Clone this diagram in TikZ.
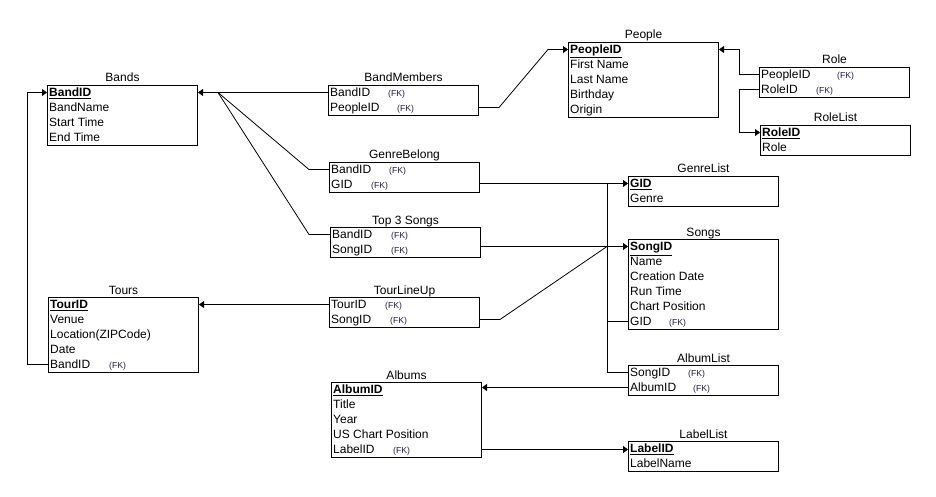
\documentclass[tikz,border=0pt]{standalone}
\usepackage{fontspec}
\setmainfont{Liberation Sans}
\usetikzlibrary{arrows.meta,calc}
\definecolor{fkcol}{RGB}{35,28,70}
\newcommand{\erpk}[1]{\textbf{\underline{#1}}}
\newcommand{\ertable}[5]{%
  \node[tbl, minimum height=#4*15pt, anchor=north west] (#1) at (#2,#3) {};
  \node[ttl] (#1-title) at ([yshift=3pt]#1.north) {#5};}
\newcommand{\errow}[4]{%
  \node[rowtxt] (#1) at ([xshift=2pt,yshift={-7.5pt-(#3-1)*15pt}]#2.north west) {#4};}
\newcommand{\erfk}[3]{%
  \node[fktxt] (#1-fk) at ([xshift=#2pt]#1.base west) {(FK)};}
\begin{document}
\begin{tikzpicture}[x=1pt,y=-1pt,
  tbl/.style={draw=black, line width=1pt, minimum width=150pt, inner sep=0pt, fill=white},
  ttl/.style={anchor=base, inner sep=0pt, font=\fontsize{12}{14}\selectfont},
  rowtxt/.style={anchor=west, inner sep=0pt, text height=8.6pt, text depth=0pt, font=\fontsize{12}{14}\selectfont},
  fktxt/.style={anchor=base west, inner sep=0pt, text=fkcol, font=\fontsize{8.7}{10}\selectfont},
  conn/.style={draw=black, line width=0.8pt},
  arr/.style={conn, -{Triangle[length=5pt,width=7pt]}}]
\useasboundingbox (0,0) rectangle (936,497);

% tables
\ertable{bands}{47}{85}{4}{Bands}
\errow{bands1}{bands}{1}{\erpk{BandID}}
\errow{bands2}{bands}{2}{BandName}
\errow{bands3}{bands}{3}{Start Time}
\errow{bands4}{bands}{4}{End Time}

\ertable{bm}{328}{85}{2}{BandMembers}
\errow{bm1}{bm}{1}{BandID}
\errow{bm2}{bm}{2}{PeopleID}
\erfk{bm1}{58}{}
\erfk{bm2}{67}{}

\ertable{people}{568}{42}{5}{People}
\errow{people1}{people}{1}{\erpk{PeopleID}}
\errow{people2}{people}{2}{First Name}
\errow{people3}{people}{3}{Last Name}
\errow{people4}{people}{4}{Birthday}
\errow{people5}{people}{5}{Origin}

\ertable{role}{759}{67}{2}{Role}
\errow{role1}{role}{1}{PeopleID}
\errow{role2}{role}{2}{RoleID}
\erfk{role1}{76}{}
\erfk{role2}{55}{}

\ertable{rolelist}{760}{125}{2}{RoleList}
\errow{rl1}{rolelist}{1}{\erpk{RoleID}}
\errow{rl2}{rolelist}{2}{Role}

\ertable{gb}{329}{162}{2}{GenreBelong}
\errow{gb1}{gb}{1}{BandID}
\errow{gb2}{gb}{2}{GID}
\erfk{gb1}{58}{}
\erfk{gb2}{40}{}

\ertable{t3}{330}{227}{2}{Top 3 Songs}
\errow{t31}{t3}{1}{BandID}
\errow{t32}{t3}{2}{SongID}
\erfk{t31}{59}{}
\erfk{t32}{59}{}

\ertable{genrelist}{628}{176}{2}{GenreList}
\errow{gl1}{genrelist}{1}{\erpk{GID}}
\errow{gl2}{genrelist}{2}{Genre}

\ertable{songs}{628}{239}{6}{Songs}
\errow{s1}{songs}{1}{\erpk{SongID}}
\errow{s2}{songs}{2}{Name}
\errow{s3}{songs}{3}{Creation Date}
\errow{s4}{songs}{4}{Run Time}
\errow{s5}{songs}{5}{Chart Position}
\errow{s6}{songs}{6}{GID}
\erfk{s6}{39}{}

\ertable{tours}{48}{297}{5}{Tours}
\errow{tours1}{tours}{1}{\erpk{TourID}}
\errow{tours2}{tours}{2}{Venue}
\errow{tours3}{tours}{3}{Location(ZIPCode)}
\errow{tours4}{tours}{4}{Date}
\errow{tours5}{tours}{5}{BandID}
\erfk{tours5}{59}{}

\ertable{tl}{329}{297}{2}{TourLineUp}
\errow{tl1}{tl}{1}{TourID}
\errow{tl2}{tl}{2}{SongID}
\erfk{tl1}{54}{}
\erfk{tl2}{59}{}

\ertable{al}{628}{365}{2}{AlbumList}
\errow{al1}{al}{1}{SongID}
\errow{al2}{al}{2}{AlbumID}
\erfk{al1}{58}{}
\erfk{al2}{63}{}

\ertable{albums}{331}{382}{5}{Albums}
\errow{albums1}{albums}{1}{\erpk{AlbumID}}
\errow{albums2}{albums}{2}{Title}
\errow{albums3}{albums}{3}{Year}
\errow{albums4}{albums}{4}{US Chart Position}
\errow{albums5}{albums}{5}{LabelID}
\erfk{albums5}{60}{}

\ertable{labellist}{628}{441}{2}{LabelList}
\errow{ll1}{labellist}{1}{\erpk{LabelID}}
\errow{ll2}{labellist}{2}{LabelName}

% helper coordinates
\coordinate (fan) at ($(bands.east |- bands1)+(20,0)$);
\coordinate (songbus) at ($(songs.west |- s1)+(-21,0)$);
\coordinate (genrebus) at ($(genrelist.west |- gl1)+(-21,0)$);

% connectors
\draw[arr] (bm.west |- bands1) -- (bands.east |- bands1);
\draw[conn] (gb.west |- gb1) -- ++(-20,0) -- (fan);
\draw[conn] (t3.west |- t31) -- ++(-21,0) -- (fan);
\draw[arr] (bm.east |- bm2) -- ++(20,0) -- ($(people.west |- people1)+(-20,0)$) -- (people.west |- people1);
\draw[arr] (role.west |- role1) -- ++(-20,0) |- (people.east |- people1);
\draw[arr] (role.west |- role2) -- ++(-20,0) |- (rolelist.west |- rl1);
\draw[arr] (gb.east |- gl1) -- (genrelist.west |- gl1);
\draw[conn] (songs.west |- s6) -| (genrebus);
\draw[arr] (t3.east |- s1) -- (songs.west |- s1);
\draw[conn] (tl.east |- tl2) -- ++(20,0) -- (songbus);
\draw[conn] (al.west |- al1) -| (songbus);
\draw[arr] (tl.west |- tl1) -- (tours.east |- tl1);
\draw[arr] (tours.west |- tours5) -- ++(-21,0) |- (bands.west |- bands1);
\draw[arr] (al.west |- al2) -- (albums.east |- al2);
\draw[arr] (albums.east |- albums5) -- (labellist.west |- albums5);
\end{tikzpicture}
\end{document}
